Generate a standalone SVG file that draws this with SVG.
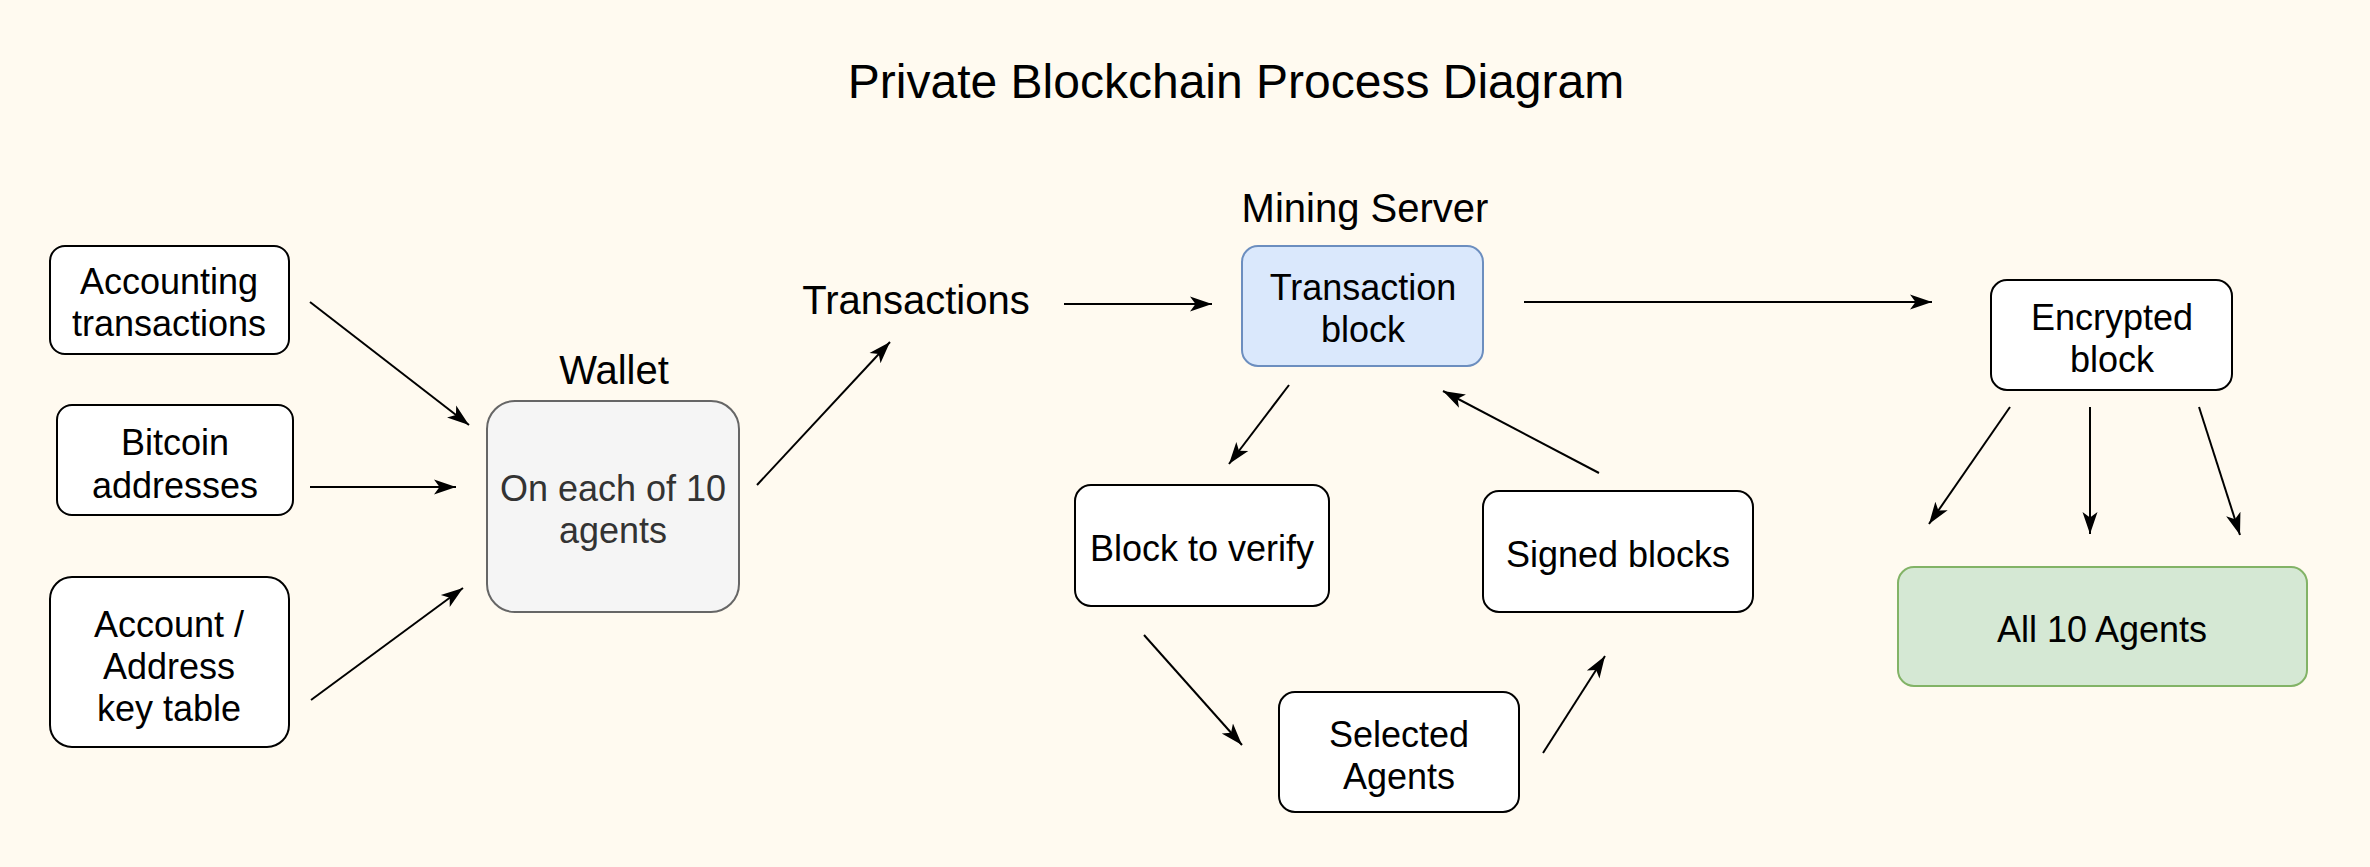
<svg xmlns="http://www.w3.org/2000/svg" width="2370" height="867" viewBox="0 0 2370 867">
<defs>
<marker id="arr" markerUnits="userSpaceOnUse" markerWidth="24" markerHeight="18" refX="22" refY="9" orient="auto" viewBox="0 0 24 18">
<path d="M0,1.5 L22,9 L0,16.5 L5.5,9 z" fill="#000"/>
</marker>
<style>
text{font-family:"Liberation Sans",Arial,Helvetica,sans-serif;fill:#000;text-anchor:middle;dominant-baseline:central}
.t{font-size:36px}
.lbl{font-size:40px}
.box{fill:#fff;stroke:#000;stroke-width:2}
.c{stroke:#000;stroke-width:2;fill:none;marker-end:url(#arr)}
</style>
</defs>
<rect x="0" y="0" width="2370" height="867" fill="#fffaf0"/>
<text x="1236" y="81" style="font-size:48px">Private Blockchain Process Diagram</text>

<g id="accounting">
<rect class="box" x="50" y="246" width="239" height="108" rx="15"/>
<text class="t" x="169" y="281">Accounting</text>
<text class="t" x="169" y="323">transactions</text>
</g>
<g id="bitcoin">
<rect class="box" x="57" y="405" width="236" height="110" rx="15"/>
<text class="t" x="175" y="442">Bitcoin</text>
<text class="t" x="175" y="485">addresses</text>
</g>
<g id="keytable">
<rect class="box" x="50" y="577" width="239" height="170" rx="22"/>
<text class="t" x="169" y="624">Account /</text>
<text class="t" x="169" y="666">Address</text>
<text class="t" x="169" y="708">key table</text>
</g>
<g id="wallet">
<text class="lbl" x="614" y="370">Wallet</text>
<rect x="487" y="401" width="252" height="211" rx="28" fill="#f5f5f5" stroke="#666" stroke-width="2"/>
<text class="t" x="613" y="488" style="fill:#333">On each of 10</text>
<text class="t" x="613" y="530" style="fill:#333">agents</text>
</g>
<g id="transactions">
<text class="lbl" x="916" y="300">Transactions</text>
</g>
<g id="txblock">
<text class="lbl" x="1365" y="208">Mining Server</text>
<rect x="1242" y="246" width="241" height="120" rx="16" fill="#dae8fc" stroke="#6c8ebf" stroke-width="2"/>
<text class="t" x="1363" y="287">Transaction</text>
<text class="t" x="1363" y="329">block</text>
</g>
<g id="encrypted">
<rect class="box" x="1991" y="280" width="241" height="110" rx="16"/>
<text class="t" x="2112" y="317">Encrypted</text>
<text class="t" x="2112" y="359">block</text>
</g>
<g id="verify">
<rect class="box" x="1075" y="485" width="254" height="121" rx="16"/>
<text class="t" x="1202" y="548">Block to verify</text>
</g>
<g id="signed">
<rect class="box" x="1483" y="491" width="270" height="121" rx="16"/>
<text class="t" x="1618" y="554">Signed blocks</text>
</g>
<g id="selected">
<rect class="box" x="1279" y="692" width="240" height="120" rx="16"/>
<text class="t" x="1399" y="734">Selected</text>
<text class="t" x="1399" y="776">Agents</text>
</g>
<g id="all10">
<rect x="1898" y="567" width="409" height="119" rx="16" fill="#d5e8d4" stroke="#82b366" stroke-width="2"/>
<text class="t" x="2102" y="629">All 10 Agents</text>
</g>

<g id="connectors">
<line class="c" x1="310" y1="302" x2="469" y2="425"/>
<line class="c" x1="310" y1="487" x2="456" y2="487"/>
<line class="c" x1="311" y1="700" x2="463" y2="588"/>
<line class="c" x1="757" y1="485" x2="890" y2="342"/>
<line class="c" x1="1064" y1="304" x2="1212" y2="304"/>
<line class="c" x1="1524" y1="302" x2="1932" y2="302"/>
<line class="c" x1="1289" y1="385" x2="1229" y2="464"/>
<line class="c" x1="1599" y1="473" x2="1443" y2="391"/>
<line class="c" x1="1144" y1="635" x2="1242" y2="745"/>
<line class="c" x1="1543" y1="753" x2="1605" y2="656"/>
<line class="c" x1="2010" y1="407" x2="1929" y2="524"/>
<line class="c" x1="2090" y1="407" x2="2090" y2="534"/>
<line class="c" x1="2199" y1="407" x2="2240" y2="535"/>
</g>
</svg>
